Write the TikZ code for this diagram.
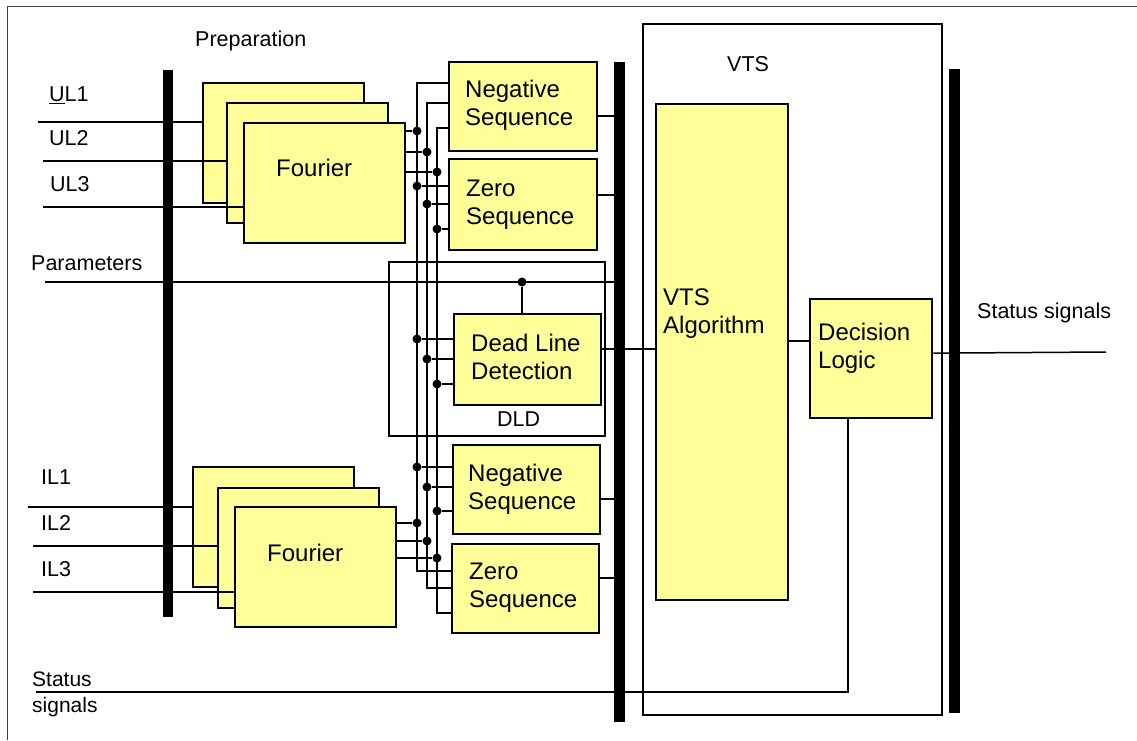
\documentclass[tikz,border=0pt]{standalone}
\usepackage{fontspec}
\setsansfont{Liberation Sans}
\definecolor{boxyellow}{RGB}{255,255,153}
\begin{document}
\begin{tikzpicture}[x=1pt, y=-1pt, font=\sffamily\fontsize{21.5}{26}\selectfont]
\tikzstyle{box}=[draw, line width=2.3pt, fill=boxyellow, inner sep=0, anchor=north west]
\tikzstyle{frame}=[draw, line width=1.9pt, inner sep=0, anchor=north west]
\tikzstyle{bus}=[fill=black, inner sep=0, anchor=north west]
\tikzstyle{wire}=[line width=1.5pt]
\tikzstyle{dot}=[circle, fill=black, inner sep=0, minimum size=9pt]
\tikzstyle{lbl}=[inner sep=0, anchor=base west]
\tikzstyle{txt}=[lbl, align=left, font=\sffamily\fontsize{24}{28}\selectfont]
\useasboundingbox (0,0) rectangle (1137,740);
\draw[line width=1pt, black!75] (1137,6.5) -- (7,6.5) -- (7,740);
\node[frame, minimum width=299, minimum height=691] (vts) at (642,23) {};
\node[frame, line width=1.6pt, minimum width=216, minimum height=174] (dld) at (388,261) {};
\node[box, minimum width=161, minimum height=120] (fu1) at (202,82) {}; \node[box, minimum width=161, minimum height=120] (fu2) at (226,102) {}; \node[box, minimum width=161, minimum height=120] (fu3) at (243,122) {};
\node[box, minimum width=161, minimum height=120] (fl1) at (192,466) {}; \node[box, minimum width=161, minimum height=120] (fl2) at (217,487) {}; \node[box, minimum width=161, minimum height=120] (fl3) at (234,506) {};
\node[box, minimum width=148, minimum height=89] (negU) at (448,61) {}; \node[box, minimum width=148, minimum height=91] (zeroU) at (448,158) {};
\node[box, minimum width=147, minimum height=91] (dead) at (453,313) {};
\node[box, minimum width=147, minimum height=89] (negL) at (452,444) {}; \node[box, minimum width=147, minimum height=89] (zeroL) at (451,543) {};
\node[box, minimum width=132, minimum height=496] (alg) at (655,103) {};
\node[box, minimum width=122, minimum height=119] (dec) at (809,298) {};
\node[txt] (fut) at (276,176) {Fourier}; \node[txt] (flt) at (267,561) {Fourier};
\node[txt] (negUt) at (465,125) {Negative\\Sequence}; \node[txt] (zeroUt) at (466,224) {Zero\\Sequence};
\node[txt] (deadt) at (471,379) {Dead Line\\Detection};
\node[txt] (negLt) at (468,509) {Negative\\Sequence}; \node[txt] (zeroLt) at (469,607) {Zero\\Sequence};
\node[txt] (algt) at (663,333) {VTS\\Algorithm}; \node[txt] (dect) at (818,368) {Decision\\Logic};
\node[lbl] (prep) at (195,46) {Preparation}; \node[lbl] (vtst) at (727,71) {VTS}; \node[lbl] (dldt) at (497,426) {DLD};
\node[lbl] at (49,101.5) {\underline{U}L1}; \node[lbl] at (49,145) {UL2}; \node[lbl] at (50,191) {UL3};
\node[lbl] at (41,484) {IL1}; \node[lbl] at (41,530) {IL2}; \node[lbl] at (41,576) {IL3};
\node[lbl] (part) at (31,270) {Parameters}; \node[lbl] (stot) at (977,318) {Status signals};
\node[lbl, align=left, font=\sffamily\fontsize{21}{26}\selectfont] (stit) at (32,712) {Status\\signals};
\coordinate (ul1) at (38,122); \coordinate (ul2) at (43,161); \coordinate (ul3) at (43,207);
\coordinate (il1) at (28,507); \coordinate (il2) at (33,546); \coordinate (il3) at (33,592);
\draw[wire] (ul1) -- (ul1 -| fu1.west); \draw[wire] (ul2) -- (ul2 -| fu2.west); \draw[wire] (ul3) -- (ul3 -| fu3.west);
\draw[wire] (il1) -- (il1 -| fl1.west); \draw[wire] (il2) -- (il2 -| fl2.west); \draw[wire] (il3) -- (il3 -| fl3.west);
\foreach \i/\x/\yt/\yb in {1/417/83/571, 2/427/103/588, 3/437/128/613} {
  \coordinate (t\i) at (\x,\yt); \coordinate (b\i) at (\x,\yb);
  \draw[wire] (t\i -| negU.west) -- (t\i) -- (b\i) -- (b\i -| zeroL.west);
}
\foreach \i/\x/\yf/\yz/\yd/\yn/\yg in {1/417/131/186/339/467/523, 2/427/152/204/359/487/541, 3/437/172/229/384/511/558} {
  \node[dot] (jf\i) at (\x,\yf) {}; \node[dot] (jz\i) at (\x,\yz) {}; \node[dot] (jd\i) at (\x,\yd) {}; \node[dot] (jn\i) at (\x,\yn) {}; \node[dot] (jg\i) at (\x,\yg) {};
  \draw[wire] (jf\i -| fu3.east) -- (jf\i); \draw[wire] (jz\i) -- (jz\i -| zeroU.west); \draw[wire] (jd\i) -- (jd\i -| dead.west);
  \draw[wire] (jn\i) -- (jn\i -| negL.west); \draw[wire] (jg\i -| fl3.east) -- (jg\i);
}
\node[bus, minimum width=10, minimum height=547] (bus1) at (163,70) {};
\node[bus, minimum width=11, minimum height=660] (bus2) at (614,62) {};
\node[bus, minimum width=11, minimum height=644] (bus3) at (949,69) {};
\coordinate (par) at (45,282); \node[dot] (pd) at (522,282) {};
\draw[wire] (par) -- (par -| bus2.west); \draw[wire] (pd) -- (pd |- dead.north);
\foreach \b/\s in {negU/-9.5, zeroU/9.5, negL/-9.5, zeroL/10.5} {
  \coordinate (o\b) at ([yshift=\s pt]\b.east); \draw[wire] (o\b) -- (o\b -| bus2.west);
}
\coordinate (dd) at ([yshift=10.5pt]dead.east); \draw[wire] (dd) -- (dd -| alg.west);
\coordinate (dl) at ([yshift=17.5pt]dec.west); \draw[wire] (dl -| alg.east) -- (dl);
\coordinate (so) at (1106,352); \draw[wire] ([yshift=5.5pt]dec.east) -- (so);
\coordinate (si) at (36,692); \coordinate (fb) at ([xshift=-23pt]dec.south); \draw[wire] (si) -| (fb);
\end{tikzpicture}
\end{document}
